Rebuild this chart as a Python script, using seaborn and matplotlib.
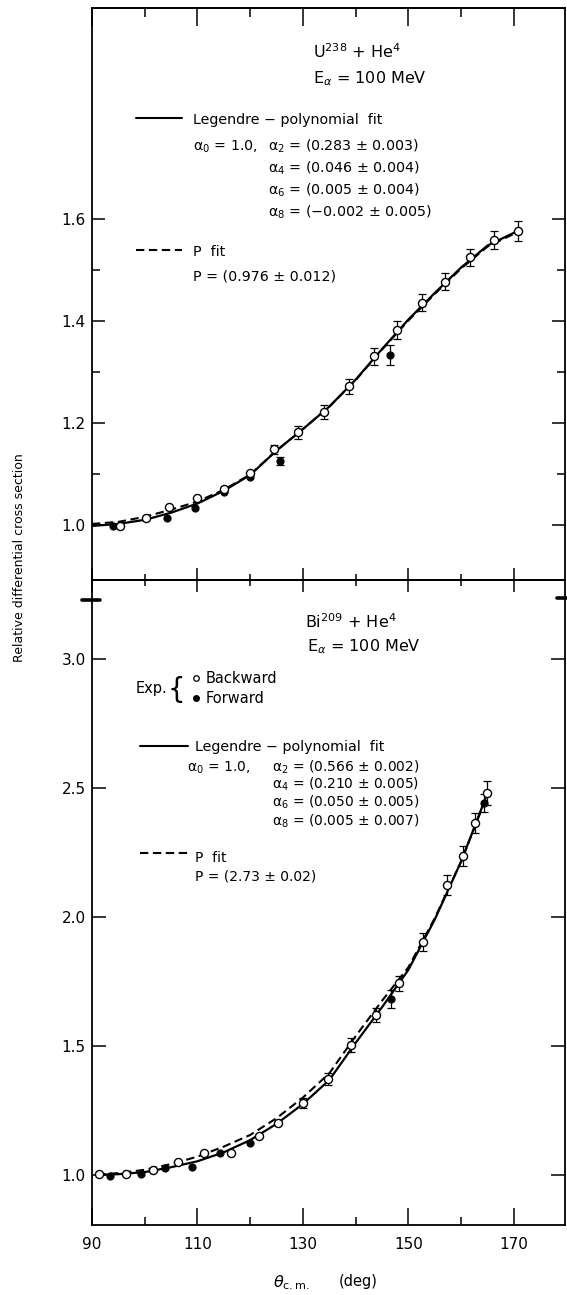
import matplotlib
matplotlib.use("Agg")
import matplotlib.pyplot as plt
import seaborn as sns
from matplotlib.lines import Line2D

W, H = 567, 1295

# ---- U238 + He4 (upper panel) ----
u_back_theta = [95.3, 100.2, 104.6, 110.0, 115.0, 119.9, 124.6, 129.1, 134.0, 138.8,
                143.4, 147.9, 152.6, 157.0, 161.6, 166.2, 170.8]
u_back_val = [0.998, 1.014, 1.036, 1.052, 1.071, 1.102, 1.148, 1.182, 1.222, 1.272,
              1.331, 1.382, 1.436, 1.477, 1.525, 1.559, 1.577]
u_back_err = [0, 0, 0, 0, 0, 0, 0.008, 0.013, 0.014, 0.015,
              0.017, 0.018, 0.017, 0.017, 0.017, 0.017, 0.02]
u_fwd_theta = [94.0, 104.3, 109.5, 115.0, 119.9, 125.6, 146.6]
u_fwd_val = [0.997, 1.014, 1.034, 1.064, 1.095, 1.126, 1.333]
u_fwd_err = [0, 0, 0, 0, 0, 0.008, 0.02]

u_fit_theta = [90, 95, 100, 105, 110, 115, 120, 125, 130, 135, 140, 145, 150, 155, 160, 165, 170.8]
u_legendre = [0.998, 1.002, 1.010, 1.024, 1.042, 1.067, 1.098, 1.146, 1.188, 1.232,
              1.285, 1.345, 1.403, 1.455, 1.505, 1.548, 1.577]
u_pfit = [1.002, 1.006, 1.016, 1.030, 1.046, 1.069, 1.099, 1.146, 1.188, 1.232,
          1.284, 1.344, 1.401, 1.453, 1.503, 1.546, 1.575]

# ---- Bi209 + He4 (lower panel) ----
b_back_theta = [91.4, 96.5, 101.6, 106.3, 111.2, 116.3, 121.6, 125.3, 130.1, 134.7,
                139.2, 143.9, 148.2, 152.8, 157.4, 160.3, 162.7, 164.9]
b_back_val = [1.003, 1.003, 1.019, 1.049, 1.084, 1.084, 1.151, 1.203, 1.278, 1.372,
              1.503, 1.620, 1.743, 1.902, 2.124, 2.236, 2.363, 2.479]
b_back_err = [0, 0, 0, 0, 0, 0, 0, 0, 0.02, 0.025,
              0.026, 0.029, 0.03, 0.034, 0.037, 0.039, 0.039, 0.047]
b_fwd_theta = [93.4, 99.2, 103.9, 109.0, 114.2, 119.9, 146.7, 164.3]
b_fwd_val = [0.997, 1.004, 1.025, 1.032, 1.084, 1.123, 1.682, 2.44]
b_fwd_err = [0, 0, 0, 0, 0, 0, 0.035, 0.035]

b_fit_theta = [91, 95, 100, 105, 110, 115, 120, 125, 130, 135, 140, 145, 150, 155, 160, 165]
b_legendre = [1.000, 1.003, 1.011, 1.030, 1.053, 1.088, 1.135, 1.198, 1.275, 1.368,
              1.512, 1.650, 1.795, 1.990, 2.215, 2.480]
b_pfit = [1.002, 1.007, 1.020, 1.042, 1.071, 1.110, 1.155, 1.220, 1.300, 1.394,
          1.538, 1.675, 1.805, 1.995, 2.215, 2.475]

x_major = [90, 110, 130, 150, 170]
x_minor = [100, 120, 140, 160]
y_top_major = [1.0, 1.2, 1.4, 1.6]
y_top_minor = [1.1, 1.3, 1.5]
y_bot_major = [1.0, 1.5, 2.0, 2.5, 3.0]

sns.set_theme(style="ticks")
plt.rcParams["font.family"] = ["DejaVu Sans"]
plt.rcParams["axes.linewidth"] = 1.3
for key in ["text.color", "axes.edgecolor", "axes.labelcolor", "xtick.color", "ytick.color"]:
    plt.rcParams[key] = "black"

fig = plt.figure(figsize=(W / 100, H / 100), dpi=100)
ax1 = fig.add_axes([92 / W, 1 - 580 / H, 473 / W, 572 / H])
ax2 = fig.add_axes([92 / W, 1 - 1225 / H, 473 / W, 645 / H])

DASH = (0, (4, 2.2))


def draw_panel(ax, bt, bv, be, ft, fv, fe, fit_t, leg, pf):
    sns.lineplot(x=fit_t, y=leg, ax=ax, color="black", lw=1.6, estimator=None, sort=False)
    sns.lineplot(x=fit_t, y=pf, ax=ax, color="black", lw=1.5, linestyle=DASH,
                 estimator=None, sort=False)
    for t, v, e in [(bt, bv, be), (ft, fv, fe)]:
        xs = [a for a, c in zip(t, e) if c > 0]
        ys = [b for b, c in zip(v, e) if c > 0]
        es = [c for c in e if c > 0]
        ax.errorbar(xs, ys, yerr=es, fmt="none", ecolor="black", elinewidth=0.9,
                    capsize=2.6, capthick=0.9, zorder=4)
    sns.scatterplot(x=ft, y=fv, ax=ax, color="black", edgecolor="black", s=26,
                    linewidth=0.8, zorder=5)
    sns.scatterplot(x=bt, y=bv, ax=ax, color="white", edgecolor="black", s=34,
                    linewidth=1.0, zorder=6)
    ax.set_xlim(90, 179.7)
    ax.set_xticks(x_major)
    ax.set_xticks(x_minor, minor=True)
    ax.set_xlabel("")
    ax.set_ylabel("")
    ax.grid(False)


draw_panel(ax1, u_back_theta, u_back_val, u_back_err, u_fwd_theta, u_fwd_val, u_fwd_err,
           u_fit_theta, u_legendre, u_pfit)
draw_panel(ax2, b_back_theta, b_back_val, b_back_err, b_fwd_theta, b_fwd_val, b_fwd_err,
           b_fit_theta, b_legendre, b_pfit)

# upper panel axes
ax1.set_ylim(0.892, 2.014)
ax1.set_yticks(y_top_major)
ax1.set_yticks(y_top_minor, minor=True)
ax1.set_yticklabels([f"{v:.1f}" for v in y_top_major])
ax1.tick_params(axis="x", which="both", direction="in", bottom=True, top=False,
                labelbottom=False, width=1.1)
ax1.tick_params(axis="x", which="major", length=8.6)
ax1.tick_params(axis="x", which="minor", length=4.3)
ax1.tick_params(axis="y", which="both", direction="in", left=True, right=True,
                labelsize=11, pad=4.5, width=1.1)
ax1.tick_params(axis="y", which="major", length=9.4)
ax1.tick_params(axis="y", which="minor", length=5.8)
sec1 = ax1.secondary_xaxis("top")
sec1.set_xticks(x_major)
sec1.set_xticks(x_minor, minor=True)
sec1.tick_params(which="both", direction="in", labeltop=False, width=1.1)
sec1.tick_params(which="major", length=13)
sec1.tick_params(which="minor", length=6.5)

# lower panel axes
ax2.set_ylim(0.806, 3.306)
ax2.set_yticks(y_bot_major)
ax2.set_yticklabels([f"{v:.1f}" for v in y_bot_major])
ax2.set_xticklabels([str(v) for v in x_major])
ax2.tick_params(axis="x", which="both", direction="in", bottom=True, top=False,
                labelsize=11, pad=8.5, width=1.1)
ax2.tick_params(axis="x", which="major", length=12.2)
ax2.tick_params(axis="x", which="minor", length=5.8)
ax2.tick_params(axis="y", which="major", direction="in", left=True, right=True,
                labelsize=11, pad=4.5, length=10, width=1.1)
sec2 = ax2.secondary_xaxis("top")
sec2.set_xticks(x_major)
sec2.set_xticks(x_minor, minor=True)
sec2.tick_params(which="both", direction="in", labeltop=False, width=1.1)
sec2.tick_params(which="major", length=8.6)
sec2.tick_params(which="minor", length=4.3)


def put(x, y, s, size=10.3, **kw):
    fig.text(x / W, 1 - y / H, s, fontsize=size, ha=kw.pop("ha", "left"),
             va=kw.pop("va", "baseline"), color="black", **kw)


def sample(x0, x1, y, ls):
    fig.add_artist(Line2D([x0 / W, x1 / W], [1 - y / H] * 2, color="black", lw=1.5,
                          linestyle=ls))


# upper annotations
put(313, 58, r"U$^{238}$ + He$^{4}$", 11.5)
put(313, 83, r"E$_{\alpha}$ = 100 MeV", 11.5)
sample(136, 182, 118, "-")
put(193, 124, "Legendre − polynomial  fit")
put(193, 150.5, "α$_{0}$ = 1.0,")
put(268, 150.5, "α$_{2}$ = (0.283 ± 0.003)")
put(268, 172.5, "α$_{4}$ = (0.046 ± 0.004)")
put(268, 195, "α$_{6}$ = (0.005 ± 0.004)")
put(268, 216.5, "α$_{8}$ = (−0.002 ± 0.005)")
sample(136, 182, 250, DASH)
put(193, 256.5, "P  fit")
put(193, 280, "P = (0.976 ± 0.012)")

# lower annotations
put(305, 628, r"Bi$^{209}$ + He$^{4}$", 11.5)
put(307, 651, r"E$_{\alpha}$ = 100 MeV", 11.5)
put(136, 693, "Exp.", 10.5)
put(168, 698, "{", 20)
fig.add_artist(Line2D([196 / W], [1 - 678 / H], marker="o", ms=4, mfc="white",
                      mec="black", mew=0.9, ls="none"))
fig.add_artist(Line2D([196 / W], [1 - 698 / H], marker="o", ms=4, mfc="black",
                      mec="black", ls="none"))
put(206, 683, "Backward", 10.5)
put(206, 703, "Forward", 10.5)
sample(140, 188, 746, "-")
put(195, 751.5, "Legendre − polynomial  fit")
put(187, 771.5, "α$_{0}$ = 1.0,", 10)
put(272, 771.5, "α$_{2}$ = (0.566 ± 0.002)", 10)
put(272, 789, "α$_{4}$ = (0.210 ± 0.005)", 10)
put(272, 807, "α$_{6}$ = (0.050 ± 0.005)", 10)
put(272, 825.5, "α$_{8}$ = (0.005 ± 0.007)", 10)
sample(140, 188, 853, DASH)
put(195, 861.5, "P  fit", 10)
put(195, 880.5, "P = (2.73 ± 0.02)", 10)

# axis break marks
fig.add_artist(Line2D([82 / W, 100 / W], [1 - 600 / H] * 2, color="black", lw=2.6))
fig.add_artist(Line2D([557 / W, 567 / W], [1 - 598 / H] * 2, color="black", lw=2.6))

# axis titles
put(20, 558, "Relative differential cross section", 9, rotation=90, ha="center",
    va="center")
put(273, 1287, r"$\theta_{\rm c.m.}$", 11.5)
put(339, 1286, "(deg)", 10.5)

fig.savefig("out.png", dpi=100)
